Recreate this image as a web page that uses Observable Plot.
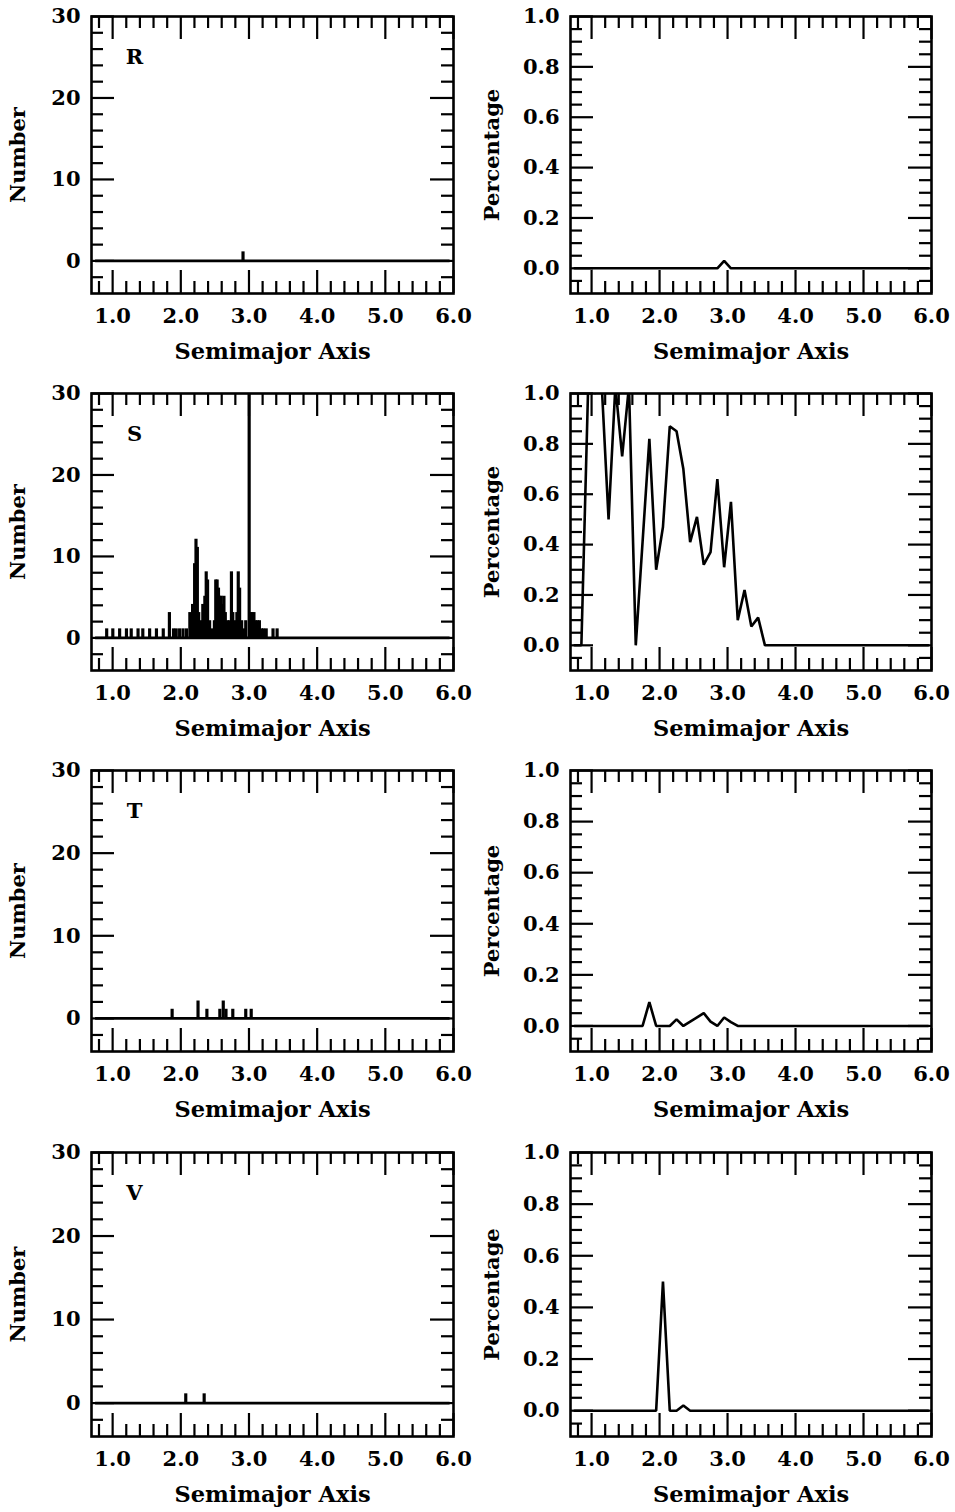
<!DOCTYPE html>
<html><head><meta charset="utf-8">
<script src="https://cdn.jsdelivr.net/npm/d3@7"></script>
<script src="https://cdn.jsdelivr.net/npm/@observablehq/plot@0.6"></script>
<style>
body{margin:0;background:#fff;}
#wrap{position:relative;width:955px;height:1512px;overflow:hidden;}
#wrap svg{position:absolute;}
</style></head><body><div id="wrap"></div>
<script>
// ---- axes / ticks ----
const xMajor = [1, 2, 3, 4, 5, 6];
const xMinor = [0.8, 1.2, 1.4, 1.6, 1.8, 2.2, 2.4, 2.6, 2.8, 3.2, 3.4, 3.6, 3.8, 4.2, 4.4, 4.6, 4.8, 5.2, 5.4, 5.6, 5.8];
const numMajor = [0, 10, 20, 30];
const numMinor = [-2, 2, 4, 6, 8, 12, 14, 16, 18, 22, 24, 26, 28];
const pctMajor = [0, 0.2, 0.4, 0.6, 0.8, 1.0];
const pctMinor = [-0.05, 0.05, 0.1, 0.15, 0.25, 0.3, 0.35, 0.45, 0.5, 0.55, 0.65, 0.7, 0.75, 0.85, 0.9, 0.95];
const xDomain = [0.69, 6.0];
const numDomain = [-4, 30];
const pctDomain = [-0.1, 1.0];
const xLabel = "Semimajor Axis";
const numLabel = "Number";
const pctLabel = "Percentage";
const classes = ["R", "S", "T", "V"];

// ---- histogram (Number) data: bin centres and counts ----
const histRange = [0.75, 5.95];
const binWidth = 0.02;
const R_a = [2.92];
const R_n = [1];
const S_a = [0.92,1.01,1.11,1.21,1.28,1.38,1.45,1.55,1.65,1.75,1.84,1.90,1.94,1.99,2.04,2.09,2.14,2.18,2.21,2.23,2.25,2.27,2.30,2.33,2.36,2.38,2.40,2.43,2.47,2.50,2.52,2.54,2.56,2.58,2.60,2.62,2.64,2.66,2.69,2.72,2.75,2.77,2.80,2.83,2.85,2.87,2.90,2.93,2.96,3.01,3.03,3.05,3.08,3.10,3.13,3.16,3.19,3.22,3.26,3.36,3.42];
const S_n = [1,1,1,1,1,1,1,1,1,1,3,1,1,1,1,1,3,4,9,12,11,3,2,4,5,8,7,2,1,2,7,7,6,5,5,4,5,3,2,2,8,3,2,3,8,6,2,1,2,32,3,3,3,2,2,2,1,1,1,1,1];
const T_a = [1.88, 2.26, 2.39, 2.58, 2.63, 2.67, 2.77, 2.96, 3.04];
const T_n = [1, 2, 1, 1, 2, 1, 1, 1, 1];
const V_a = [2.08, 2.35];
const V_n = [1, 1];

// ---- percentage data: vertices ----
const R_pa = [0.75, 2.85, 2.95, 3.05, 5.95];
const R_p  = [0, 0, 0.03, 0, 0];
const S_pa = [0.75,0.85,0.95,1.05,1.15,1.25,1.35,1.45,1.55,1.65,1.85,1.95,2.05,2.15,2.25,2.35,2.45,2.55,2.65,2.75,2.85,2.95,3.05,3.15,3.25,3.35,3.45,3.55,5.95];
const S_p  = [0,0,1.03,1.0,1.03,0.5,1.03,0.75,1.03,0,0.82,0.30,0.47,0.87,0.85,0.70,0.41,0.51,0.32,0.37,0.66,0.31,0.57,0.10,0.22,0.075,0.11,0,0];
const T_pa = [0.75,1.75,1.85,1.95,2.15,2.25,2.35,2.65,2.75,2.85,2.95,3.05,3.15,5.95];
const T_p  = [0,0,0.093,0,0,0.026,0,0.05,0.017,0,0.033,0.015,0,0];
const V_pa = [0.75,1.95,2.05,2.15,2.25,2.35,2.45,5.95];
const V_p  = [0,0,0.5,0,0,0.02,0,0];

const hist = {R: [R_a, R_n], S: [S_a, S_n], T: [T_a, T_n], V: [V_a, V_n]};
const pct = {R: [R_pa, R_p], S: [S_pa, S_p], T: [T_pa, T_p], V: [V_pa, V_p]};

// ---- layout ----
const rowTop = [16, 393, 770, 1152];
const rowH = [277, 277, 281, 284];
const FONT = "'DejaVu Serif', serif";
const wrap = document.getElementById("wrap");
const fmt1 = d3.format(".1f");

function panel({left, fLeft, W, fTop, H, yDomain, yMajor, yMinor, yFmt, yLabel, yLabelDx, letter, marks}) {
  const mL = fLeft - left, mT = 16, mR = 24, mB = 80;
  const txt = {fontFamily: FONT, fontWeight: "bold", fill: "black"};
  const svg = Plot.plot({
    width: mL + W + mR, height: mT + H + mB,
    marginLeft: mL, marginTop: mT, marginRight: mR, marginBottom: mB,
    x: {domain: xDomain, axis: null},
    y: {domain: yDomain, axis: null},
    style: {background: "transparent", fontFamily: FONT, color: "black", overflow: "visible"},
    marks: [
      ...marks,
      Plot.frame({stroke: "black", strokeWidth: 2.6}),
      Plot.tickX(xMajor, {x: d => d, insetBottom: H - 23, stroke: "black", strokeWidth: 2.2}),
      Plot.tickX(xMajor, {x: d => d, insetTop: H - 23, stroke: "black", strokeWidth: 2.2}),
      Plot.tickX(xMinor, {x: d => d, insetBottom: H - 12, stroke: "black", strokeWidth: 2.2}),
      Plot.tickX(xMinor, {x: d => d, insetTop: H - 12, stroke: "black", strokeWidth: 2.2}),
      Plot.tickY(yMajor, {y: d => d, insetRight: W - 23, stroke: "black", strokeWidth: 2.2}),
      Plot.tickY(yMajor, {y: d => d, insetLeft: W - 23, stroke: "black", strokeWidth: 2.2}),
      Plot.tickY(yMinor, {y: d => d, insetRight: W - 12, stroke: "black", strokeWidth: 2.2}),
      Plot.tickY(yMinor, {y: d => d, insetLeft: W - 12, stroke: "black", strokeWidth: 2.2}),
      Plot.text(xMajor, {x: d => d, text: d => fmt1(d), frameAnchor: "bottom", dy: 23, lineAnchor: "middle", textAnchor: "middle", fontSize: 21, ...txt}),
      Plot.text(yMajor, {y: d => d, text: yFmt, frameAnchor: "left", dx: -11, textAnchor: "end", lineAnchor: "middle", fontSize: 21, ...txt}),
      Plot.text([xLabel], {text: d => d, frameAnchor: "bottom", dy: 58, lineAnchor: "middle", textAnchor: "middle", fontSize: 22.5, ...txt}),
      Plot.text([yLabel], {text: d => d, frameAnchor: "left", dx: yLabelDx, rotate: -90, lineAnchor: "middle", textAnchor: "middle", fontSize: 21, ...txt}),
      ...(letter ? [Plot.text([letter], {text: d => d, frameAnchor: "top-left", dx: 43, dy: 41, lineAnchor: "middle", textAnchor: "middle", fontSize: 21, ...txt})] : [])
    ]
  });
  svg.style.left = left + "px";
  svg.style.top = (fTop - mT) + "px";
  wrap.appendChild(svg);
}

classes.forEach((c, r) => {
  const [ha, hn] = hist[c];
  const hData = ha.map((a, i) => ({a, n: hn[i]}));
  panel({
    left: 0, fLeft: 91, W: 362, fTop: rowTop[r], H: rowH[r],
    yDomain: numDomain, yMajor: numMajor, yMinor: numMinor, yFmt: d => String(d),
    yLabel: numLabel, yLabelDx: -73, letter: c,
    marks: [
      Plot.ruleY([0], {x1: histRange[0], x2: histRange[1], stroke: "black", strokeWidth: 2.8}),
      Plot.rectY(hData, {x1: d => d.a - binWidth / 2, x2: d => d.a + binWidth / 2, y1: 0, y2: "n", fill: "black", stroke: "black", strokeWidth: 1.8, clip: true})
    ]
  });
  const [pa, pv] = pct[c];
  const pData = pa.map((a, i) => ({a, p: pv[i]}));
  panel({
    left: 478, fLeft: 570, W: 361, fTop: rowTop[r], H: rowH[r],
    yDomain: pctDomain, yMajor: pctMajor, yMinor: pctMinor, yFmt: d => fmt1(d),
    yLabel: pctLabel, yLabelDx: -78, letter: null,
    marks: [
      Plot.line(pData, {x: "a", y: "p", stroke: "black", strokeWidth: 2.6, strokeLinejoin: "miter", clip: true})
    ]
  });
});
</script></body></html>
